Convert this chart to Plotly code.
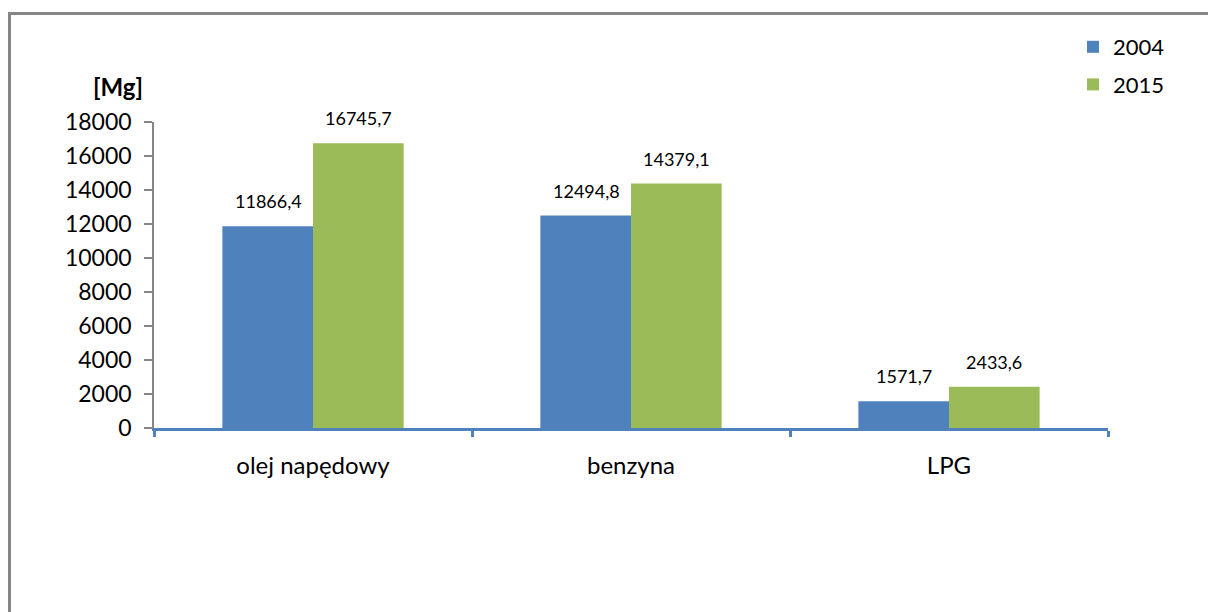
import plotly.graph_objects as go

# Fuel consumption by type [Mg]
categories = ["olej napędowy", "benzyna", "LPG"]
years = ["2004", "2015"]
values_2004 = [11866.4, 12494.8, 1571.7]
values_2015 = [16745.7, 14379.1, 2433.6]
y_ticks = [0, 2000, 4000, 6000, 8000, 10000, 12000, 14000, 16000, 18000]

W, H = 1208, 612
FONT = "Lato"
BLUE = "#4F81BD"
GREEN = "#9BBB59"
GRAY = "#868686"

# plot area in pixels
x0, x1 = 154, 1108
y_top, y_bot = 122, 428

def fmt(v):
    return f"{v:.1f}".replace(".", ",")

fig = go.Figure()
for name, vals, color in [(years[0], values_2004, BLUE), (years[1], values_2015, GREEN)]:
    fig.add_trace(go.Bar(
        name=name, x=categories, y=vals, marker=dict(color=color, line=dict(width=0)),
        legendgroup=name,
    ))

# value labels above each bar
annotations = []
for vals, shift in [(values_2004, -45), (values_2015, 45)]:
    for cat, v in zip(categories, vals):
        annotations.append(dict(
            x=cat, y=v, xref="x", yref="y", text=fmt(v), showarrow=False,
            xshift=shift, yshift=12, yanchor="bottom",
            font=dict(family=FONT, size=18, color="#000000"),
        ))

# unit label above the value axis
annotations.append(dict(
    x=118 / W, y=1 - 87 / H, xref="paper", yref="paper", text="<b>[Mg]</b>",
    showarrow=False, xanchor="center", yanchor="middle",
    font=dict(family=FONT, size=24, color="#000000"),
))

fig.update_layout(
    width=W, height=H,
    margin=dict(l=0, r=0, t=0, b=0, autoexpand=False),
    paper_bgcolor="white", plot_bgcolor="white",
    barmode="group", bargap=0.43, bargroupgap=0,
    font=dict(family=FONT, color="#000000"),
    xaxis=dict(
        domain=[x0 / W, x1 / W], automargin=False,
        showline=True, linecolor=BLUE, linewidth=3,
        ticks="outside", tickson="boundaries", tickcolor=BLUE, tickwidth=3, ticklen=6,
        ticklabelstandoff=14,
        tickfont=dict(family=FONT, size=24, color="#000000"),
        showgrid=False, zeroline=False, fixedrange=True,
    ),
    yaxis=dict(
        domain=[1 - y_bot / H, 1 - y_top / H], automargin=False,
        range=[0, 18000], tickvals=y_ticks, tickformat="d",
        showline=True, linecolor=GRAY, linewidth=1.5,
        ticks="outside", tickcolor=GRAY, tickwidth=1.5, ticklen=8,
        ticklabelstandoff=8,
        tickfont=dict(family=FONT, size=23, color="#000000"),
        showgrid=False, zeroline=False, fixedrange=True,
    ),
    legend=dict(
        x=1073 / W, y=1 - 26 / H, xanchor="left", yanchor="top",
        font=dict(family=FONT, size=22, color="#000000"),
        traceorder="grouped", tracegroupgap=6,
        bgcolor="rgba(0,0,0,0)", itemclick=False, itemdoubleclick=False,
    ),
    annotations=annotations,
    shapes=[dict(
        type="rect", xref="paper", yref="paper",
        x0=9.5 / W, x1=1.05, y0=-0.05, y1=1 - 13.5 / H,
        line=dict(color=GRAY, width=3), fillcolor="rgba(0,0,0,0)", layer="below",
    )],
)

fig.write_html("out.html")
